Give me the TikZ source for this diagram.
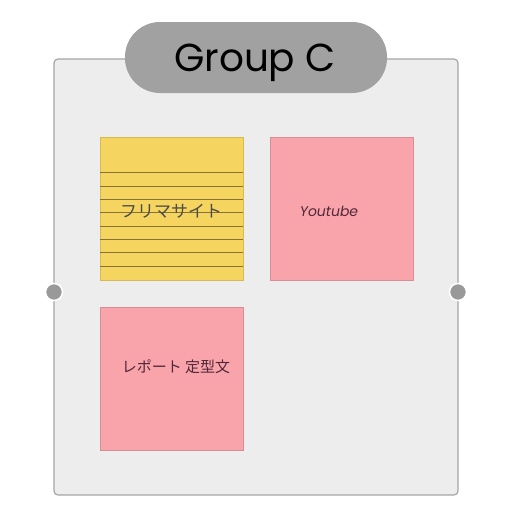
\documentclass[tikz,border=0pt]{standalone}
\usepackage{fontspec}
\setmainfont{Poppins}
\newfontfamily\jpfont{Noto Sans CJK JP}
\begin{document}
\begin{tikzpicture}[x=1pt,y=-1pt,
  panel/.style={draw=black!35,fill=black!7,line width=1.2pt,rounded corners=4pt},
  pill/.style={fill=black!37,rounded corners=35pt},
  titletext/.style={text=black,font=\fontsize{39}{42}\selectfont},
  yellownote/.style={draw={rgb,255:red,215;green,185;blue,80},fill={rgb,255:red,245;green,213;blue,95},line width=0.5pt},
  pinknote/.style={draw={rgb,255:red,215;green,140;blue,150},fill={rgb,255:red,249;green,163;blue,171},line width=0.5pt},
  ruled/.style={draw={rgb,255:red,135;green,115;blue,55},line width=0.5pt},
  hand/.style={font=\jpfont\fontsize{15}{17}\selectfont,text={rgb,255:red,80;green,40;blue,55}},
  port/.style={circle,fill=black!40,draw=white,line width=1.5pt,minimum size=17pt,inner sep=0pt}]
\useasboundingbox (0,0) rectangle (512,512);
\fill[white] (0,0) rectangle (512,512);
\draw[panel] (54,59) rectangle (458,495);
\node[pill,minimum width=262pt,minimum height=71pt,inner sep=0pt] (title) at (256,57.5) {};
\node[titletext,anchor=base] (tt) at (255,71) {Group C};
% yellow note
\draw[yellownote] (100,137) rectangle (243,280);
\foreach \yy in {172.7,186,199.3,212.7,226,239.3,252.7,266}
  \draw[ruled] (100,\yy) -- (243,\yy);
\node[hand,font=\jpfont\fontsize{17}{19}\selectfont,text=black!70] (t1) at (171,211) {フリマサイト};
% pink notes
\draw[pinknote] (270,137) rectangle (413,280);
\node[hand,font=\itshape\fontsize{14}{16}\selectfont] (t2) at (329,211) {Youtube};
\draw[pinknote] (100,307) rectangle (243,450);
\node[hand] (t3) at (176,367) {レポート 定型文};
% ports
\node[port] (pl) at (54,292) {};
\node[port] (pr) at (458,292) {};
\end{tikzpicture}
\end{document}
